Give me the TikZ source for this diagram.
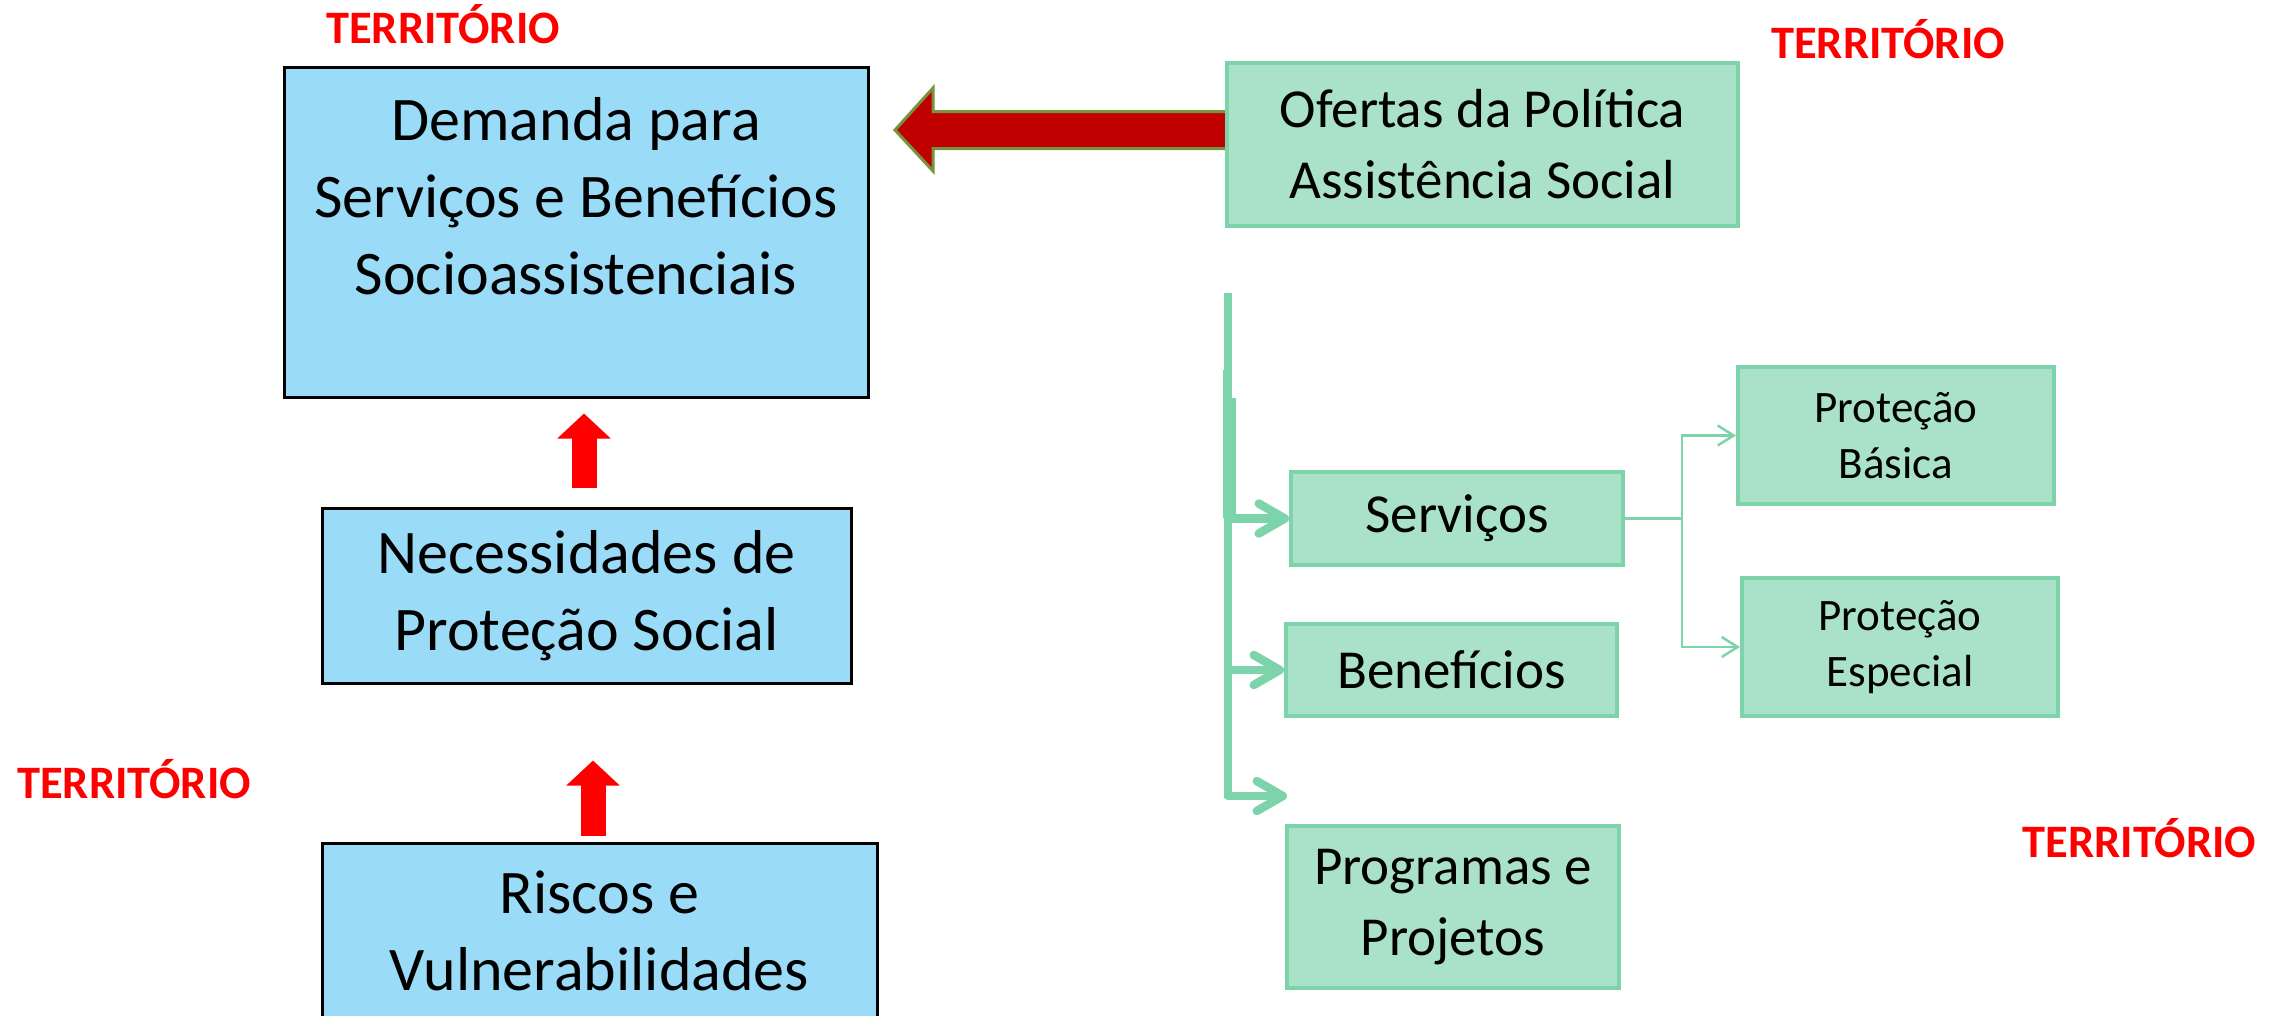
\documentclass[tikz,border=0pt]{standalone}
\usepackage{fontspec}
\setmainfont{Carlito}
\usetikzlibrary{arrows.meta,calc}
\definecolor{boxblue}{HTML}{9ADBF8}
\definecolor{boxgreen}{HTML}{A9E2C8}
\definecolor{greenline}{HTML}{7ED4AA}
\definecolor{terrred}{HTML}{FF0000}
\definecolor{darkred}{HTML}{C00000}
\definecolor{olive}{HTML}{77933C}
\begin{document}
\begin{tikzpicture}[x=1pt,y=-1pt,
  bluebox/.style={draw=black, line width=3pt, fill=boxblue, inner sep=0pt, align=center,
    font=\fontsize{62}{77}\selectfont},
  greenbox/.style={draw=greenline, line width=4pt, fill=boxgreen, inner sep=0pt, align=center,
    font=\fontsize{55}{71}\selectfont},
  smallgreen/.style={greenbox, font=\fontsize{45}{56}\selectfont},
  terr/.style={text=terrred, font=\bfseries\fontsize{46.5}{56}\selectfont, inner sep=0pt, anchor=base},
  redup/.style={draw=terrred, line width=25pt, -{Triangle[width=52pt,length=25pt]}},
  bigarrow/.style={fill=darkred, draw=olive, line width=3pt, line join=miter},
  trunkline/.style={draw=greenline, line width=8pt},
  gthick/.style={draw=greenline, line width=8.5pt, line cap=round,
    -{Straight Barb[length=26pt,width=30pt,line cap=round,line join=round]}},
  gthin/.style={draw=greenline, line width=2.5pt,
    -{Straight Barb[length=16pt,width=20pt]}}
]
\fill[white] (0,0) rectangle (2288,1015);
\useasboundingbox (0,0) rectangle (2288,1015);

% territory labels
\node[terr] (t1) at (443,43) {TERRITÓRIO};
\node[terr] (t2) at (1888,58) {TERRITÓRIO};
\node[terr] (t3) at (134,798) {TERRITÓRIO};
\node[terr] (t4) at (2139.5,857) {TERRITÓRIO};

% left column
\node[bluebox, minimum width=584pt, minimum height=330pt] (dem) at (576,232)
  {\parbox[c][324pt][t]{570pt}{\centering\vspace*{27pt}Demanda para\\Serviços e Benefícios\\Socioassistenciais}};
\node[bluebox, minimum width=529pt, minimum height=175pt] (nec) at (586.5,595.5)
  {Necessidades de\\Proteção Social};
\node[bluebox, minimum width=555pt, minimum height=175pt] (ris) at (599.5,930.5)
  {Riscos e\\Vulnerabilidades};

\draw[redup] ($(nec.north)+(-2.5,-19)$) -- ($(dem.south)+(8,15)$);
\draw[redup] ($(ris.north)+(-6.5,-6)$) -- ($(nec.south)+(6.5,76)$);

% offers
\coordinate (tip) at (895,130);
\coordinate (aR) at (1230,130);
\draw[bigarrow] ($(aR)+(0,-18.5)$) -- (933,111.5) -- (933,88) -- (tip) -- (933,171)
  -- (933,148.5) -- ($(aR)+(0,18.5)$) -- cycle;
\node[greenbox, minimum width=511pt, minimum height=163pt] (ofe) at (1482.5,144.5)
  {Ofertas da Política\\Assistência Social};

\node[greenbox, minimum width=332pt, minimum height=93pt] (ser) at (1457,518.5) {Serviços};
\node[greenbox, minimum width=331pt, minimum height=92pt] (ben) at (1451.5,670) {Benefícios};
\node[greenbox, minimum width=332pt, minimum height=162pt] (pro) at (1453,907) {Programas e\\Projetos};
\node[smallgreen, minimum width=316pt, minimum height=137pt] (pb) at (1896,435.5) {Proteção\\Básica};
\node[smallgreen, minimum width=316pt, minimum height=138pt] (pe) at (1900,647) {Proteção\\Especial};

% trunk
\coordinate (trTop) at (1228,293);
\coordinate (trBot) at (1228,798);
\coordinate (trA) at (1229.5,398);
\coordinate (trB) at (1229.5,518);
\coordinate (trC) at (1225,370);
\draw[trunkline] (trTop) -- (trBot);
\draw[draw=greenline, line width=12pt] (trA) -- (trB);
\draw[draw=greenline, line width=4pt] (trC) -- (1225,518);
\coordinate (progEnd) at (1287,796);
\draw[gthick] (trTop |- ser.west) -- (ser.west);
\draw[gthick] (trTop |- ben.west) -- (ben.west);
\draw[gthick] (trTop |- progEnd) -- (progEnd);

% thin connectors
\coordinate (split) at ($(ser.east)+(57,0)$);
\draw[draw=greenline, line width=2.5pt] (ser.east) -- (split);
\draw[gthin] (split) |- (pb.west);
\draw[gthin] (split) |- (pe.west);
\end{tikzpicture}
\end{document}
